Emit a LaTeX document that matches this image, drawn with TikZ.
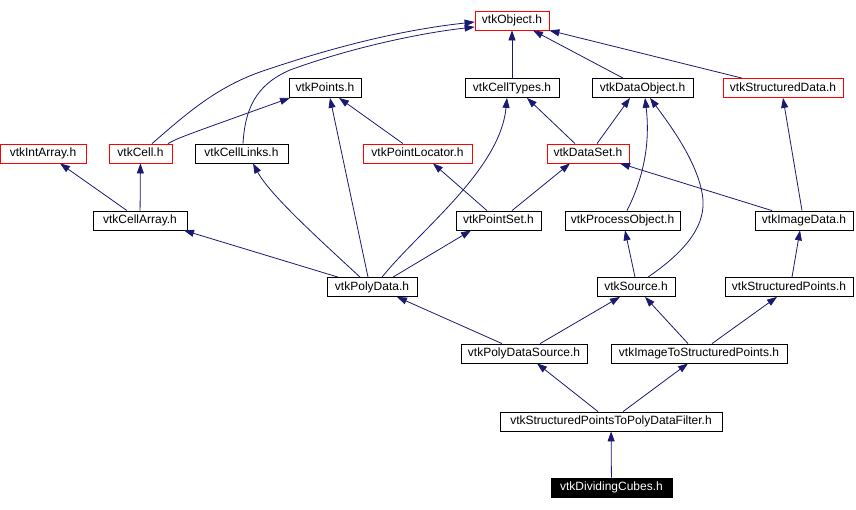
\documentclass[tikz,border=0pt]{standalone}
\usepackage{fontspec}
\setmainfont{Liberation Sans}
\usetikzlibrary{arrows.meta}
\definecolor{edgeblue}{RGB}{25,25,112}
\tikzset{every picture/.style={line width=0.8pt}}
\tikzset{
  hdr/.style={draw=black, rectangle, inner sep=0pt, minimum height=19pt,
    text height=8.8pt, text depth=2.6pt, font=\fontsize{12}{14}\selectfont},
  hdrred/.style={hdr, draw=red},
  hdrmain/.style={hdr, fill=black, text=white},
  dep/.style={edgeblue, -{Triangle[length=10pt,width=7pt]}},
}

\begin{document}
\begin{tikzpicture}[x=1pt, y=-1pt]
    \useasboundingbox (0,0) rectangle (856,509);

    % 第一、二层
    \node[hdrred, minimum width=74pt]  (object)     at (512,20.5) {vtkObject.h};
    \node[hdr,    minimum width=72pt]  (points)     at (325,88)   {vtkPoints.h};
    \node[hdr,    minimum width=94pt]  (celltypes)  at (512,88)   {vtkCellTypes.h};
    \node[hdr,    minimum width=101pt] (dataobject) at (642.5,88) {vtkDataObject.h};
    \node[hdrred, minimum width=120pt] (structdata) at (783,88)   {vtkStructuredData.h};

    % 第三层
    \node[hdrred, minimum width=86pt]  (intarray)   at (43,153.5)    {vtkIntArray.h};
    \node[hdrred, minimum width=63pt]  (cell)       at (140.5,153.5) {vtkCell.h};
    \node[hdr,    minimum width=93pt]  (celllinks)  at (241.5,153.5) {vtkCellLinks.h};
    \node[hdrred, minimum width=109pt] (locator)    at (417.5,153.5) {vtkPointLocator.h};
    \node[hdrred, minimum width=82pt]  (dataset)    at (588,153.5)   {vtkDataSet.h};

    % 第四层
    \node[hdr, minimum width=94pt]  (cellarray) at (140,220.5)   {vtkCellArray.h};
    \node[hdr, minimum width=85pt]  (pointset)  at (498.5,220.5) {vtkPointSet.h};
    \node[hdr, minimum width=115pt] (process)   at (622.5,220.5) {vtkProcessObject.h};
    \node[hdr, minimum width=98pt]  (imagedata) at (804,220.5)   {vtkImageData.h};

    % 下面几层
    \node[hdr, minimum width=90pt]  (polydata)     at (372,287)     {vtkPolyData.h};
    \node[hdr, minimum width=78pt]  (source)       at (636,287)     {vtkSource.h};
    \node[hdr, minimum width=128pt] (structpoints) at (789,287)     {vtkStructuredPoints.h};
    \node[hdr, minimum width=126pt] (pdsource)     at (524,353.5)   {vtkPolyDataSource.h};
    \node[hdr, minimum width=176pt] (imagetosp)    at (699,353.5)   {vtkImageToStructuredPoints.h};
    \node[hdr, minimum width=222pt] (filter)       at (611,421.5)   {vtkStructuredPointsToPolyDataFilter.h};
    \node[hdrmain, minimum width=121pt] (dividing) at (611.5,487.5) {vtkDividingCubes.h};

    % 指向 vtkObject.h
    \draw[dep] ([xshift=11.5pt]cell.north) .. controls (185,115) and (215,88) .. (260,72)
        .. controls (330,48) and (400,30) .. ([yshift=-1.5pt]object.west);
    \draw[dep] ([xshift=1.5pt]celllinks.north) .. controls (245,110) and (255,85) .. (290,70)
        .. controls (350,48) and (420,33) .. ([yshift=-6.5pt]object.west);
    \draw[dep] (celltypes) -- (object);
    \draw[dep] ([xshift=-19.5pt]dataobject.north) -- ([xshift=21pt]object.south);
    \draw[dep] ([xshift=-41pt]structdata.north) -- (object.south east);

    % 第三层的边
    \draw[dep] ([xshift=27.5pt]cell.north) .. controls (178,138) .. ([xshift=-35pt]points.south);
    \draw[dep] ([xshift=-14.5pt]locator.north) -- ([xshift=14pt]points.south);
    \draw[dep] ([xshift=-13pt]dataset.north) -- ([xshift=15pt]celltypes.south);
    \draw[dep] ([xshift=9pt]dataset.north) -- ([xshift=-12.5pt]dataobject.south);

    % 第四层的边
    \draw[dep] ([xshift=-13pt]cellarray.north) -- ([xshift=17pt]intarray.south);
    \draw[dep] (cellarray) -- (cell);
    \draw[dep] ([xshift=-11.5pt]pointset.north) -- ([xshift=15.5pt]locator.south);
    \draw[dep] ([xshift=13.5pt]pointset.north) -- ([xshift=-18pt]dataset.south);
    \draw[dep] ([xshift=4.5pt]process.north) .. controls (645,175) and (650,140) .. ([xshift=2.5pt]dataobject.south);
    \draw[dep] ([xshift=-32pt]imagedata.north) -- ([xshift=32pt]dataset.south);
    \draw[dep] ([xshift=-2pt]imagedata.north) -- (structdata.south);

    % vtkPolyData.h 的边
    \draw[dep] ([xshift=-34pt]polydata.north) -- ([xshift=44pt]cellarray.south);
    \draw[dep] ([xshift=-12pt]polydata.north) .. controls (320,240) and (270,195) .. ([xshift=11.5pt]celllinks.south);
    \draw[dep] ([xshift=-4pt]polydata.north) -- ([xshift=5pt]points.south);
    \draw[dep] ([xshift=10pt]polydata.north) .. controls (420,230) and (500,170) .. ([xshift=-5pt]celltypes.south);
    \draw[dep] ([xshift=21pt]polydata.north) -- ([xshift=-27.5pt]pointset.south);

    % vtkSource.h 与 vtkStructuredPoints.h 的边
    \draw[dep] ([xshift=-1pt]source.north) -- ([xshift=2.5pt]process.south);
    \draw[dep] ([xshift=12pt]source.north) .. controls (680,255) and (705,230) .. (703,200)
        .. controls (700,165) and (670,125) .. ([xshift=7.5pt]dataobject.south);
    \draw[dep] ([xshift=3pt]structpoints.north) -- ([xshift=-4pt]imagedata.south);

    % 下面的边
    \draw[dep] ([xshift=-22pt]pdsource.north) -- ([xshift=25pt]polydata.south);
    \draw[dep] ([xshift=16pt]pdsource.north) -- ([xshift=-16pt]source.south);
    \draw[dep] ([xshift=-11pt]imagetosp.north) -- ([xshift=9pt]source.south);
    \draw[dep] ([xshift=13pt]imagetosp.north) -- ([xshift=-12pt]structpoints.south);
    \draw[dep] ([xshift=-13pt]filter.north) -- ([xshift=13pt]pdsource.south);
    \draw[dep] ([xshift=12pt]filter.north) -- ([xshift=-11pt]imagetosp.south);
    \draw[dep] (dividing) -- (filter);
\end{tikzpicture}
\end{document}
